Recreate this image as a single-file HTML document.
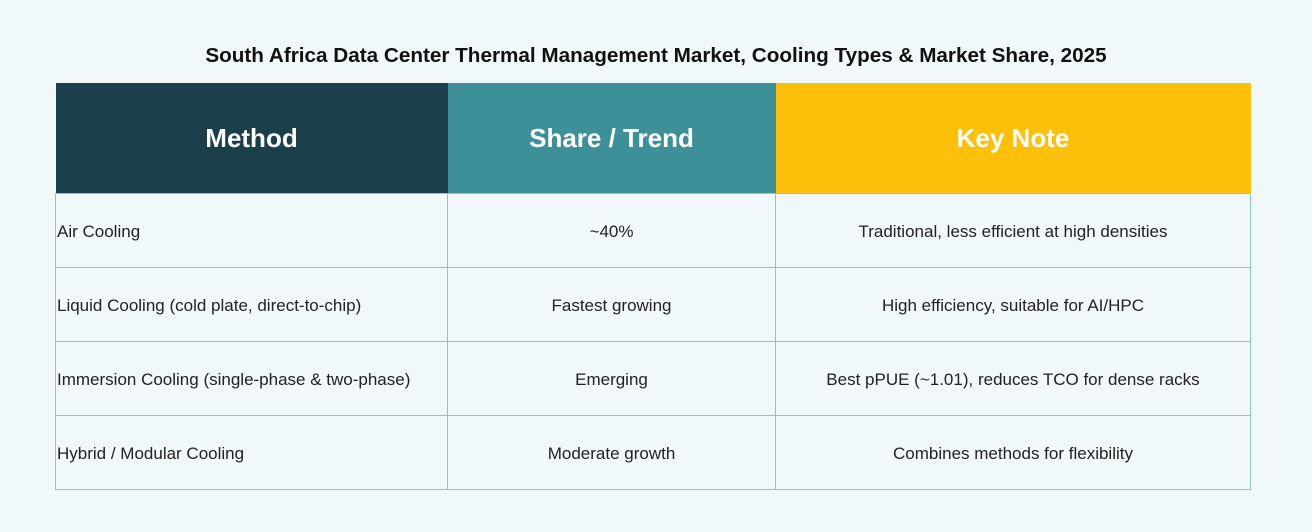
<!DOCTYPE html>
<html><head><style>
body{margin:0;width:1312px;height:532px;background:#f1f8f9;font-family:"Liberation Sans",sans-serif;position:relative;overflow:hidden}
.t{position:absolute;top:44px;left:0;width:1312px;text-align:center;font-weight:bold;font-size:20.7px;color:#111}
table{position:absolute;left:55px;top:83px;width:1196px;border-collapse:collapse}
th{height:110px;color:#fff;font-size:26px;font-weight:bold;padding:0}
td{height:71px;border:1.5px solid #8cc6c9;font-size:17px;color:#222;text-align:center;padding:2px 0 0 0}
td:first-child{text-align:left;padding-left:1px}
</style></head><body>
<div class="t">South Africa Data Center Thermal Management Market, Cooling Types &amp; Market Share, 2025</div>
<table>
<tr><th style="width:392px;background:#1a3e4a">Method</th><th style="width:328px;background:#3d9098">Share / Trend</th><th style="background:#fcbf0a">Key Note</th></tr>
<tr><td>Air Cooling</td><td>~40%</td><td>Traditional, less efficient at high densities</td></tr>
<tr><td>Liquid Cooling (cold plate, direct-to-chip)</td><td>Fastest growing</td><td>High efficiency, suitable for AI/HPC</td></tr>
<tr><td>Immersion Cooling (single-phase &amp; two-phase)</td><td>Emerging</td><td>Best pPUE (~1.01), reduces TCO for dense racks</td></tr>
<tr><td>Hybrid / Modular Cooling</td><td>Moderate growth</td><td>Combines methods for flexibility</td></tr>
</table>
</body></html>
